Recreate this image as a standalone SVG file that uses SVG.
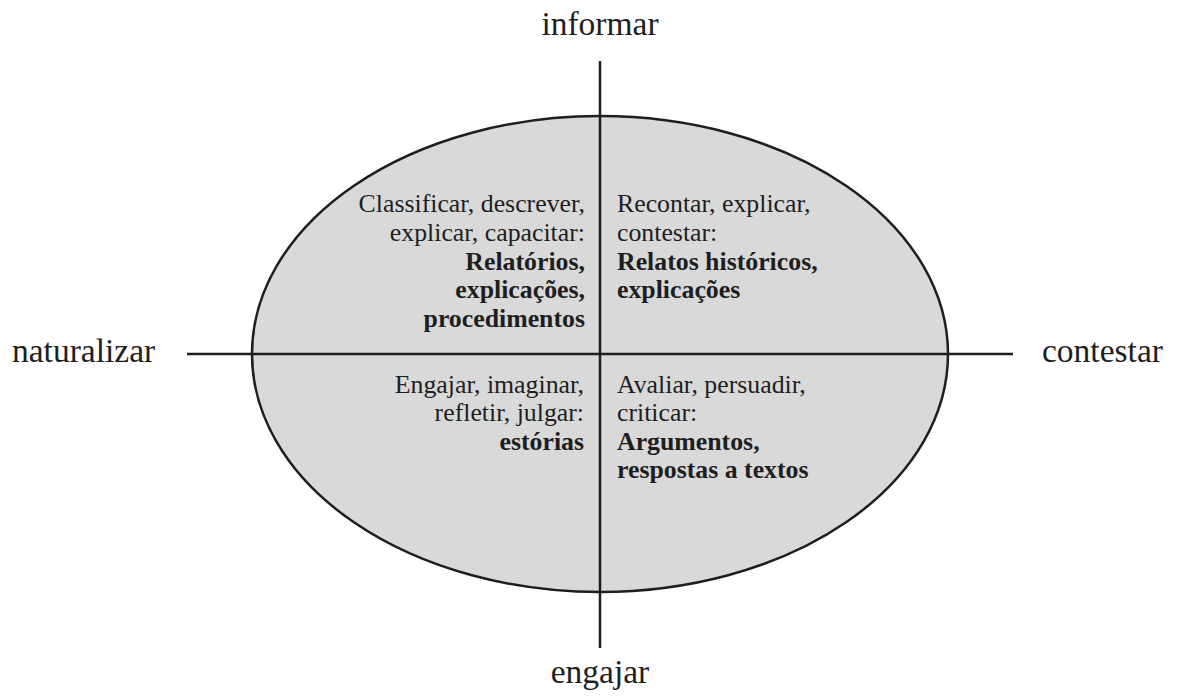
<svg xmlns="http://www.w3.org/2000/svg" width="1177" height="700" viewBox="0 0 1177 700">
<style>
text{font-family:"Liberation Serif","Times New Roman",serif;fill:#1e1e1e}
.ax{font-size:33.5px}
.q{font-size:25.8px}
.b{font-weight:bold}
.ln{stroke:#1e1e1e;stroke-width:2.5;fill:none}
</style>
<rect width="1177" height="700" fill="#ffffff"/>
<g id="ellipse">
<ellipse cx="600" cy="354" rx="348" ry="238" fill="#d9d9d9" stroke="#1e1e1e" stroke-width="2.5"/>
</g>
<g id="connectors">
<line class="ln" x1="600" y1="61" x2="600" y2="648"/>
<line class="ln" x1="187" y1="354" x2="1013" y2="354"/>
</g>
<g id="axis-top"><text class="ax" x="600" y="35" text-anchor="middle">informar</text></g>
<g id="axis-bottom"><text class="ax" x="600" y="683" text-anchor="middle">engajar</text></g>
<g id="axis-left"><text class="ax" x="12" y="362">naturalizar</text></g>
<g id="axis-right"><text class="ax" x="1042" y="362">contestar</text></g>
<g id="q-top-left">
<text class="q" text-anchor="end" x="585" y="212">Classificar, descrever,</text>
<text class="q" text-anchor="end" x="585" y="241">explicar, capacitar:</text>
<text class="q b" text-anchor="end" x="585" y="270">Relatórios,</text>
<text class="q b" text-anchor="end" x="585" y="298">explicações,</text>
<text class="q b" text-anchor="end" x="585" y="327">procedimentos</text>
</g>
<g id="q-top-right">
<text class="q" x="617" y="212">Recontar, explicar,</text>
<text class="q" x="617" y="241">contestar:</text>
<text class="q b" x="617" y="270">Relatos históricos,</text>
<text class="q b" x="617" y="298">explicações</text>
</g>
<g id="q-bottom-left">
<text class="q" text-anchor="end" x="584" y="393">Engajar, imaginar,</text>
<text class="q" text-anchor="end" x="584" y="421">refletir, julgar:</text>
<text class="q b" text-anchor="end" x="584" y="450">estórias</text>
</g>
<g id="q-bottom-right">
<text class="q" x="617" y="393">Avaliar, persuadir,</text>
<text class="q" x="617" y="421">criticar:</text>
<text class="q b" x="617" y="450">Argumentos,</text>
<text class="q b" x="617" y="478">respostas a textos</text>
</g>
</svg>
